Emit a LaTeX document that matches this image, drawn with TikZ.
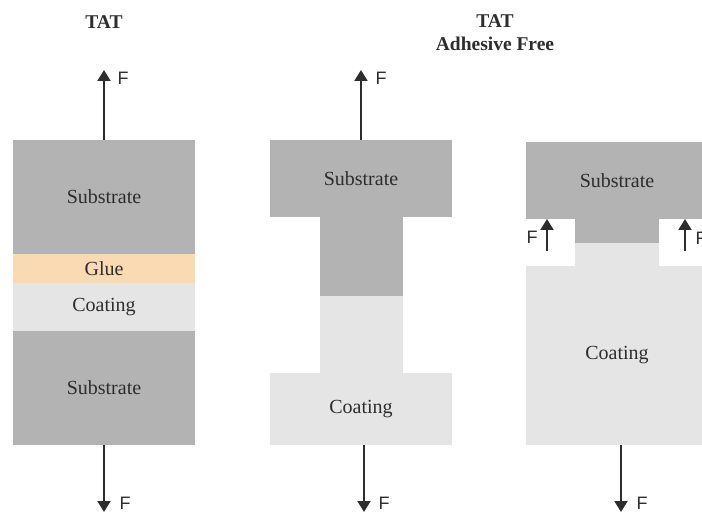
\documentclass[tikz,border=0pt]{standalone}
\usepackage{fontspec}
\setmainfont{Liberation Serif}
\newfontfamily\forcefont{Liberation Sans}
\usetikzlibrary{arrows.meta}
\definecolor{subst}{RGB}{179,179,179}
\definecolor{coat}{RGB}{229,229,229}
\definecolor{gluec}{RGB}{250,218,178}
\definecolor{ink}{RGB}{45,45,45}
\begin{document}
\begin{tikzpicture}[x=1pt,y=-1pt,
  layer/.style={draw=none, inner sep=0pt, outer sep=0pt, anchor=north west,
    text=ink, font=\fontsize{20}{23}\selectfont},
  force/.style={draw=ink, line width=2pt, -{Triangle[width=13pt,length=11pt]}},
  flabel/.style={text=ink, inner sep=0pt, font=\forcefont\fontsize{18}{20}\selectfont},
  title/.style={text=ink, inner sep=0pt, align=center, font=\bfseries\fontsize{19.5}{23}\selectfont}]
\useasboundingbox (0,0) rectangle (702,513);

% ---- left: TAT with glue layer ----
\node[title] (t1) at (104,22) {TAT};
\node[layer, fill=subst, minimum width=182pt, minimum height=114pt] (s1a) at (13,140) {Substrate};
\node[layer, fill=gluec, minimum width=182pt, minimum height=29pt] (g1) at (13,254) {Glue};
\node[layer, fill=coat, minimum width=182pt, minimum height=48pt] (c1) at (13,283) {Coating};
\node[layer, fill=subst, minimum width=182pt, minimum height=114pt] (s1b) at (13,331) {Substrate};
\coordinate (u1) at (104,70);
\coordinate (d1) at (104,512);
\draw[force] (s1a.north) -- (u1);
\draw[force] (s1b.south) -- (d1);
\node[flabel] (fu1) at (123,78) {F};
\node[flabel] (fd1) at (125,503) {F};

% ---- middle: adhesive free, stud ----
\node[title] (t2) at (495,33) {TAT\\Adhesive Free};
\node[layer, fill=subst, minimum width=182pt, minimum height=77pt] (s2) at (270,140) {Substrate};
\node[layer, fill=subst, minimum width=83pt, minimum height=79pt] (p2a) at (319.5,217) {};
\node[layer, fill=coat, minimum width=83pt, minimum height=77pt] (p2b) at (319.5,296) {};
\node[layer, fill=coat, minimum width=182pt, minimum height=72pt] (c2) at (270,373) {Coating};
\coordinate (u2) at (361,70);
\coordinate (d2) at (364,512);
\draw[force] (s2.north) -- (u2);
\draw[force] (c2.south -| d2) -- (d2);
\node[flabel] (fu2) at (381,78) {F};
\node[flabel] (fd2) at (384,503) {F};

% ---- right: adhesive free, pull-off ----
\node[layer, fill=subst, minimum width=182pt, minimum height=77pt] (s3) at (526,142) {Substrate};
\node[layer, fill=subst, minimum width=84pt, minimum height=24pt] (p3a) at (575,219) {};
\node[layer, fill=coat, minimum width=84pt, minimum height=23pt] (p3b) at (575,243) {};
\node[layer, fill=coat, minimum width=182pt, minimum height=179pt] (c3) at (526,266) {Coating};
\coordinate (l3) at (547,251);
\coordinate (r3) at (685,251);
\coordinate (d3) at (621,512);
\draw[force] (l3) -- (l3 |- s3.south);
\draw[force] (r3) -- (r3 |- s3.south);
\draw[force] (c3.south -| d3) -- (d3);
\node[flabel] (fl3) at (532,237) {F};
\node[flabel] (fr3) at (701,238) {F};
\node[flabel] (fd3) at (642,503) {F};
\end{tikzpicture}
\end{document}
